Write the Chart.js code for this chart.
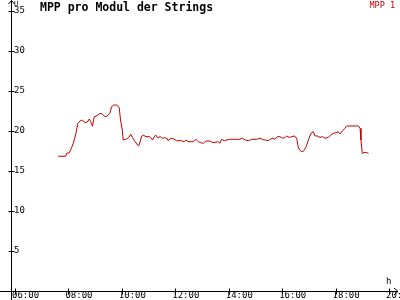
<!DOCTYPE html>
<html><head><meta charset="utf-8">
<script src="https://cdn.jsdelivr.net/npm/chart.js@4/dist/chart.umd.min.js"></script>
<style>html,body{margin:0;padding:0;background:#fff}</style>
</head><body>
<canvas id="c" width="400" height="300"></canvas>
<script>
const chartTitle = 'MPP pro Modul der Strings';
const seriesName = 'MPP 1';
const yUnit = 'U';
const xUnit = 'h';
const xTickHours = [6, 8, 10, 12, 14, 16, 18, 20];
const yTickValues = [5, 10, 15, 20, 25, 30, 35];
const times = ['07:37','07:54','07:56','08:02','08:05','08:11','08:17','08:21','08:26','08:31','08:36','08:42','08:47','08:50','08:54','08:58','09:04','09:11','09:17','09:22','09:27','09:33','09:37','09:42','09:48','09:54','09:57','10:01','10:03','10:09','10:15','10:20','10:24','10:30','10:35','10:38','10:45','10:48','10:54','11:03','11:09','11:12','11:16','11:20','11:26','11:31','11:35','11:41','11:44','11:50','11:57','12:03','12:14','12:20','12:24','12:29','12:40','12:46','12:52','12:57','13:03','13:09','13:18','13:24','13:37','13:40','13:44','13:50','14:01','14:18','14:25','14:31','14:37','14:44','14:52','15:03','15:10','15:18','15:22','15:29','15:33','15:39','15:44','15:49','15:55','16:01','16:07','16:10','16:16','16:22','16:27','16:31','16:33','16:36','16:39','16:44','16:49','16:54','16:59','17:03','17:06','17:10','17:14','17:19','17:25','17:31','17:36','17:44','17:49','17:55','18:01','18:06','18:10','18:16','18:21','18:25','18:51','18:55','18:57','19:00','19:06','19:10','19:14'];
const values = [16.84,16.84,17.21,17.29,17.63,18.46,19.71,20.96,21.25,21.38,21.09,21.09,21.5,21.16,20.6,21.79,21.91,22.21,22.09,21.79,21.88,22.21,23.04,23.25,23.25,22.96,21.38,20.13,18.88,18.96,19.16,19.59,19.16,18.66,18.25,18.13,19.38,19.5,19.29,19.29,18.88,19.21,19.5,19.16,19.29,19.09,19.16,19.09,18.79,19.09,19.0,18.79,18.79,18.66,18.88,18.66,18.66,18.96,18.66,18.54,18.46,18.75,18.75,18.54,18.66,18.46,18.96,18.79,18.96,18.96,18.96,19.09,18.88,18.79,18.96,18.96,19.09,18.9,18.88,18.79,18.96,19.09,18.96,19.29,19.29,19.09,19.21,19.38,19.21,19.29,19.38,19.21,18.96,18.04,17.63,17.41,17.54,18.04,18.88,19.5,19.79,19.91,19.38,19.38,19.21,19.29,19.09,19.21,19.5,19.71,19.79,19.91,19.63,20.04,20.34,20.63,20.63,20.34,18.88,17.21,17.34,17.29,17.21];

const toHours = t => { const [h, m] = t.split(':').map(Number); return h + m / 60; };
const points = times.map((t, i) => ({ x: toHours(t), y: values[i] }));
const pad2 = n => String(n).padStart(2, '0');

const MONO = '"DejaVu Sans Mono", monospace';
const LINE_COLOR = '#c00000';

const decor = {
  id: 'decor',
  afterDraw(chart) {
    const ctx = chart.ctx;
    const xs = chart.scales.x, ys = chart.scales.y;
    const ax = Math.round(xs.getPixelForValue(xs.min)) + 0.5;
    const ay = Math.round(ys.getPixelForValue(0)) + 0.5;
    ctx.save();
    ctx.strokeStyle = '#000';
    ctx.lineWidth = 1;
    ctx.beginPath();
    // y axis line with arrow
    ctx.moveTo(ax, 300); ctx.lineTo(ax, 0.5);
    ctx.moveTo(ax - 3, 4); ctx.lineTo(ax, 0.5); ctx.lineTo(ax + 3, 4);
    // x axis line with arrow
    ctx.moveTo(0, ay); ctx.lineTo(398, ay);
    ctx.moveTo(394, ay - 3.5); ctx.lineTo(398, ay); ctx.lineTo(394, ay + 3.5);
    // y ticks
    yTickValues.forEach(v => {
      const p = Math.round(ys.getPixelForValue(v)) + 0.5;
      ctx.moveTo(ax - 3, p); ctx.lineTo(ax + 3, p);
    });
    // x ticks
    xTickHours.forEach(v => {
      const p = Math.round(xs.getPixelForValue(v)) + 0.5;
      ctx.moveTo(p, ay - 3); ctx.lineTo(p, ay + 3);
    });
    ctx.stroke();
    // texts
    ctx.fillStyle = '#000';
    ctx.textBaseline = 'alphabetic';
    ctx.textAlign = 'left';
    ctx.font = 'bold 11.5px ' + MONO;
    ctx.fillText(chartTitle, 40, 11);
    ctx.font = '7px ' + MONO;
    ctx.fillText(yUnit, 14, 6);
    ctx.font = '9px ' + MONO;
    ctx.fillText(xUnit, 386, 284);
    ctx.fillStyle = LINE_COLOR;
    ctx.font = '8.5px ' + MONO;
    ctx.textAlign = 'right';
    ctx.fillText(seriesName, 395, 8);
    ctx.restore();
  }
};

new Chart(document.getElementById('c'), {
  type: 'line',
  data: {
    datasets: [{
      label: seriesName,
      data: points,
      borderColor: LINE_COLOR,
      backgroundColor: LINE_COLOR,
      borderWidth: 1,
      pointRadius: 0,
      tension: 0,
      fill: false
    }]
  },
  options: {
    responsive: false,
    animation: false,
    devicePixelRatio: 1,
    layout: { padding: { top: 11, left: 0, right: 2, bottom: 0 } },
    plugins: { legend: { display: false }, title: { display: false }, tooltip: { enabled: false } },
    scales: {
      x: {
        type: 'linear',
        min: 6 - 4 / 26.714,
        max: 20 + 9 / 26.714,
        grid: { display: false, drawTicks: false },
        border: { display: false },
        afterBuildTicks: s => { s.ticks = xTickHours.map(v => ({ value: v })); },
        afterFit: s => { s.height = 9; s.paddingLeft = 0; s.paddingRight = 0; },
        ticks: {
          autoSkip: false, maxRotation: 0, minRotation: 0,
          align: 'start', labelOffset: -3, padding: 0,
          color: '#000',
          font: { family: MONO, size: 9, lineHeight: 1 },
          callback: v => pad2(v) + ':00'
        }
      },
      y: {
        min: 0, max: 35,
        grid: { display: false, drawTicks: false },
        border: { display: false },
        afterBuildTicks: s => { s.ticks = yTickValues.map(v => ({ value: v })); },
        afterFit: s => { s.width = 11; s.paddingTop = 0; s.paddingBottom = 0; },
        ticks: {
          mirror: true, padding: 3, color: '#000',
          font: { family: MONO, size: 9, lineHeight: 1 },
          callback: v => String(v)
        }
      }
    }
  },
  plugins: [decor]
});
</script>
</body></html>
